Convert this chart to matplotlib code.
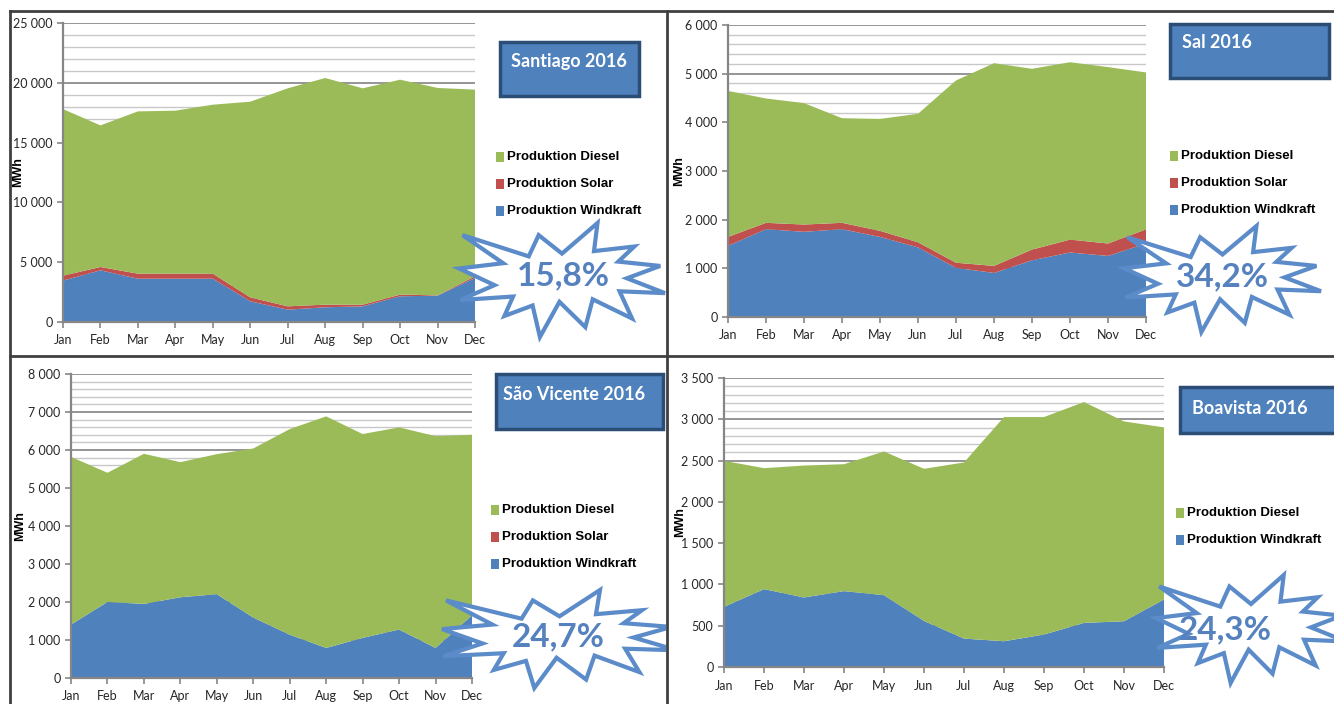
import matplotlib
matplotlib.use('Agg')
import matplotlib.pyplot as plt
import numpy as np
from matplotlib.patches import Polygon, Rectangle
from matplotlib.lines import Line2D
from matplotlib.ticker import MultipleLocator, FuncFormatter

# Monatswerte in MWh
months = ['Jan', 'Feb', 'Mar', 'Apr', 'May', 'Jun', 'Jul', 'Aug', 'Sep', 'Oct', 'Nov', 'Dec']

santiago_wind = [3460, 4320, 3620, 3620, 3620, 1730, 1030, 1230, 1310, 2150, 2200, 3680]
santiago_solar = [410, 280, 420, 420, 420, 330, 280, 220, 140, 140, 30, 140]
santiago_diesel = [13930, 11840, 13570, 13630, 14130, 16360, 18230, 18950, 18090, 17970, 17340, 15610]

sal_wind = [1460, 1805, 1750, 1805, 1645, 1430, 1010, 905, 1165, 1325, 1255, 1510]
sal_solar = [185, 130, 150, 130, 125, 105, 105, 145, 220, 265, 255, 290]
sal_diesel = [3000, 2555, 2495, 2150, 2300, 2640, 3745, 4165, 3715, 3645, 3625, 3225]

sv_wind = [1405, 2000, 1950, 2125, 2205, 1590, 1140, 790, 1055, 1275, 790, 1650]
sv_solar = [0, 0, 0, 0, 0, 0, 0, 0, 0, 0, 0, 0]
sv_diesel = [4415, 3400, 3950, 3555, 3685, 4450, 5410, 6095, 5365, 5320, 5575, 4750]

boa_wind = [728, 943, 842, 919, 870, 558, 344, 312, 393, 534, 554, 817]
boa_diesel = [1769, 1465, 1598, 1537, 1740, 1842, 2133, 2715, 2634, 2675, 2420, 2085]

titles = ['Santiago 2016', 'Sal 2016', 'São Vicente 2016', 'Boavista 2016']
shares = ['15,8%', '34,2%', '24,7%', '24,3%']

GREEN = '#9BBB59'
RED = '#C0504D'
BLUE = '#4F81BD'

W, H = 1334, 704
fig = plt.figure(figsize=(W / 100, H / 100), dpi=100)
fig.patch.set_facecolor('white')


def fx(x):
    return x / W


def fy(y):
    return 1 - y / H


# Excel "Explosion 1" Form (Einheiten 0..21600)
seal = [(10800, 5800), (14522, 0), (14155, 5325), (18380, 4457), (16702, 7315),
        (21097, 8137), (17607, 10475), (21600, 13290), (16837, 12942), (18145, 18095),
        (14020, 14457), (13247, 19737), (10532, 14935), (8485, 21600), (7715, 15627),
        (4762, 17617), (5667, 13937), (135, 14587), (3722, 11775), (0, 8615),
        (4627, 7617), (370, 2295), (7312, 6320), (8352, 2295)]


def starburst(left, top, width, height, text, tx, ty, clip):
    pts = [(fx(left + sx / 21600 * width), fy(top + sy / 21600 * height)) for sx, sy in seal]
    poly = Polygon(pts, closed=True, transform=fig.transFigure, facecolor='white',
                   edgecolor='#5B8BC9', lw=3, zorder=5)
    fig.add_artist(poly)
    cr = Rectangle((fx(clip[0]), fy(clip[3])), fx(clip[2] - clip[0]), (clip[3] - clip[1]) / H,
                   transform=fig.transFigure, visible=False)
    poly.set_clip_path(cr)
    fig.text(fx(tx), fy(ty), text, fontsize=24, color='#5581BE', family='Lato',
             weight='bold', ha='center', va='center', zorder=6)


def title_box(left, top, right, bottom, text, tx, ty, ha):
    fig.add_artist(Rectangle((fx(left), fy(bottom)), fx(right - left), (bottom - top) / H,
                             transform=fig.transFigure, facecolor=BLUE,
                             edgecolor='#2C4D75', lw=2.5, zorder=5))
    fig.text(fx(tx), fy(ty), text, fontsize=13, color='white', weight='bold',
             family='Lato', ha=ha, va='center', zorder=6)


def legend(x, ys, names, colors):
    for y, n, c in zip(ys, names, colors):
        fig.add_artist(Rectangle((fx(x), fy(y + 5)), fx(8), 10 / H, transform=fig.transFigure,
                                 facecolor=c, edgecolor='none', zorder=5))
        fig.text(fx(x + 11), fy(y), n, fontsize=9.5, weight='bold', family='Liberation Sans',
                 ha='left', va='center', zorder=6)


def panel(rect, series, colors, ymax, major, minor, ylab_x):
    left, top, right, bottom = rect
    ax = fig.add_axes([fx(left), fy(bottom), fx(right - left), (bottom - top) / H])
    x = np.arange(len(months))
    ax.stackplot(x, *series, colors=colors, zorder=3, lw=0)
    ax.set_xlim(0, 11)
    ax.set_ylim(0, ymax)
    ax.set_xticks(x)
    ax.set_xticklabels(months)
    ax.yaxis.set_major_locator(MultipleLocator(major))
    ax.yaxis.set_minor_locator(MultipleLocator(minor))
    ax.yaxis.set_major_formatter(FuncFormatter(lambda v, p: f'{int(v):,}'.replace(',', ' ')))
    ax.grid(which='major', axis='y', color='#8C8C8C', lw=1.3, zorder=1)
    ax.grid(which='minor', axis='y', color='#C8C8C8', lw=1.0, zorder=1)
    for s in ['top', 'right']:
        ax.spines[s].set_visible(False)
    for s in ['left', 'bottom']:
        ax.spines[s].set_color('#868686')
        ax.spines[s].set_linewidth(1.6)
        ax.spines[s].set_zorder(4)
    ax.tick_params(axis='both', which='major', labelsize=9, colors='#868686',
                   labelcolor='#262626', length=4, width=1.2, direction='out')
    ax.tick_params(axis='y', which='minor', length=0)
    ax.tick_params(axis='x', pad=5)
    for lab in ax.get_xticklabels() + ax.get_yticklabels():
        lab.set_family('Lato')
    fig.text(fx(ylab_x), fy((top + bottom) / 2), 'MWh', rotation=90, fontsize=9,
             weight='bold', family='Liberation Sans', ha='center', va='center')
    return ax


leg3 = ['Produktion Diesel', 'Produktion Solar', 'Produktion Windkraft']

# Santiago
panel((63, 23, 475, 322), [santiago_wind, santiago_solar, santiago_diesel],
      [BLUE, RED, GREEN], 25000, 5000, 1000, 18)
title_box(500, 42, 639, 96, titles[0], 569, 62, 'center')
legend(496, [157, 184, 211], leg3, [GREEN, RED, BLUE])
starburst(459, 223, 206, 114, shares[0], 563, 276, (10, 12, 666, 355))

# Sal
panel((728, 25, 1146, 317), [sal_wind, sal_solar, sal_diesel],
      [BLUE, RED, GREEN], 6000, 1000, 200, 679)
title_box(1170, 24, 1329, 78, titles[1], 1182, 43, 'left')
legend(1170, [156, 183, 210], leg3, [GREEN, RED, BLUE])
starburst(1124, 226, 197, 106, shares[1], 1222, 277, (669, 12, 1334, 355))

# São Vicente
panel((71, 374, 472, 678), [sv_wind, sv_solar, sv_diesel],
      [BLUE, RED, GREEN], 8000, 1000, 200, 20)
title_box(496, 374, 663, 429, titles[2], 574, 394, 'center')
legend(491, [510, 537, 564], leg3, [GREEN, RED, BLUE])
starburst(442, 590, 235, 98, shares[2], 558, 637, (10, 357, 666, 704))

# Boavista
panel((724, 378, 1164, 667), [boa_wind, boa_diesel],
      [BLUE, GREEN], 3500, 500, 100, 680)
title_box(1180, 387, 1340, 433, titles[3], 1192, 408, 'left')
legend(1176, [513, 540], ['Produktion Diesel', 'Produktion Windkraft'], [GREEN, BLUE])
starburst(1156, 575, 190, 108, shares[3], 1225, 630, (669, 357, 1334, 704))

# Rahmenlinien zwischen den Feldern
for xs, ys in [((10, 1334), (11, 11)), ((10, 10), (11, 704)), ((667, 667), (11, 704)),
               ((10, 1334), (356, 356))]:
    fig.add_artist(Line2D([fx(v) for v in xs], [fy(v) for v in ys], color='#404040',
                          lw=2, transform=fig.transFigure, zorder=7))

fig.savefig('out.png', dpi=100)
